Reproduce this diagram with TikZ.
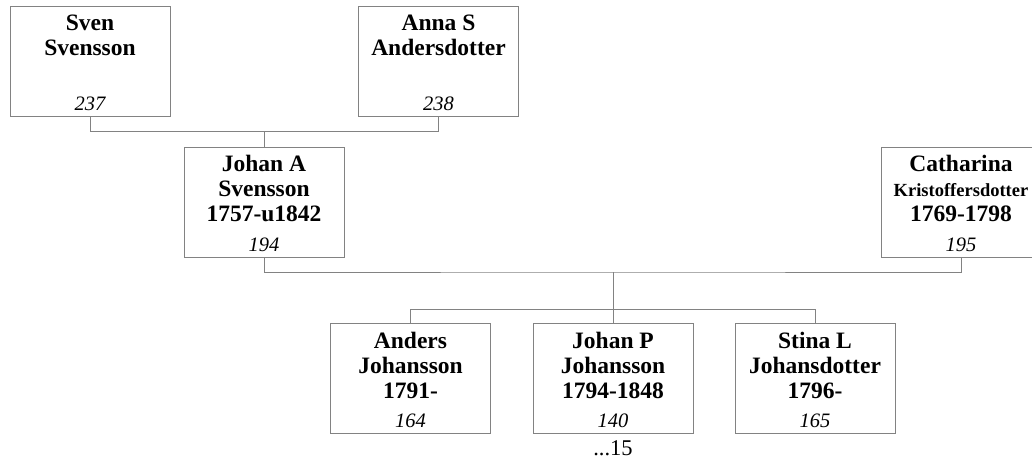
\documentclass[tikz,border=0pt]{standalone}
\usepackage{fontspec}
\setmainfont{Liberation Serif}
\usepackage{tikz}

\definecolor{boxgray}{RGB}{130,130,130}

\tikzset{
  person/.style={shape=rectangle, draw=boxgray, line width=1pt, minimum width=160pt, minimum height=110pt, inner sep=0pt},
  nametext/.style={anchor=north, yshift=-7.5pt, inner sep=0pt, align=center, font=\fontsize{23.5}{25}\selectfont\bfseries},
  reftext/.style={anchor=base, yshift=6.5pt, inner sep=0pt, font=\fontsize{20.5}{22}\selectfont\itshape},
  link/.style={draw=boxgray, line width=1pt}
}

\begin{document}
\begin{tikzpicture}[x=1pt, y=-1pt]
\useasboundingbox (0,0) rectangle (1032,459);

% grandparents
\node (sven) at (90,61) [person] {};
\node (sven-n) at (sven.north) [nametext] {\strut Sven\\Svensson};
\node (sven-r) at (sven.south) [reftext] {237};

\node (anna) at (438.5,61) [person] {};
\node (anna-n) at (anna.north) [nametext] {\strut Anna S\\Andersdotter};
\node (anna-r) at (anna.south) [reftext] {238};

% parents
\node (johana) at (264,202) [person] {};
\node (johana-n) at (johana.north) [nametext] {\strut Johan A\\Svensson\\1757-u1842};
\node (johana-r) at (johana.south) [reftext] {194};

\node (cath) at (961,202) [person] {};
\node (cath-n) at (cath.north) [nametext] {\strut Catharina\\{\fontsize{18.5}{25}\selectfont Kristoffersdotter}\\1769-1798};
\node (cath-r) at (cath.south) [reftext] {195};

% children
\node (anders) at (410.5,378.5) [person] {};
\node (anders-n) at (anders.north) [nametext] {\strut Anders\\Johansson\\1791-};
\node (anders-r) at (anders.south) [reftext] {164};

\node (johanp) at (613,378.5) [person] {};
\node (johanp-n) at (johanp.north) [nametext] {\strut Johan P\\Johansson\\1794-1848};
\node (johanp-r) at (johanp.south) [reftext] {140};

\node (stina) at (815,378.5) [person] {};
\node (stina-n) at (stina.north) [nametext] {\strut Stina L\\Johansdotter\\1796-};
\node (stina-r) at (stina.south) [reftext] {165};

\node (more) at (613,455) [anchor=base, inner sep=0pt, font=\fontsize{22.5}{25}\selectfont] {...15};

% lines
\coordinate (p1) at (264,131.5);
\coordinate (p2) at (613,272);
\coordinate (kids) at (613,309);

\draw [link] (sven.south) |- (p1) -| (anna.south);
\draw [link] (p1) -- (johana.north);
\draw [link] (johana.south) |- (p2) -| (cath.south);
\draw [link] (p2) -- (kids);
\draw [link] (anders.north) |- (kids) -| (stina.north);
\draw [link] (kids) -- (johanp.north);
\end{tikzpicture}
\end{document}
